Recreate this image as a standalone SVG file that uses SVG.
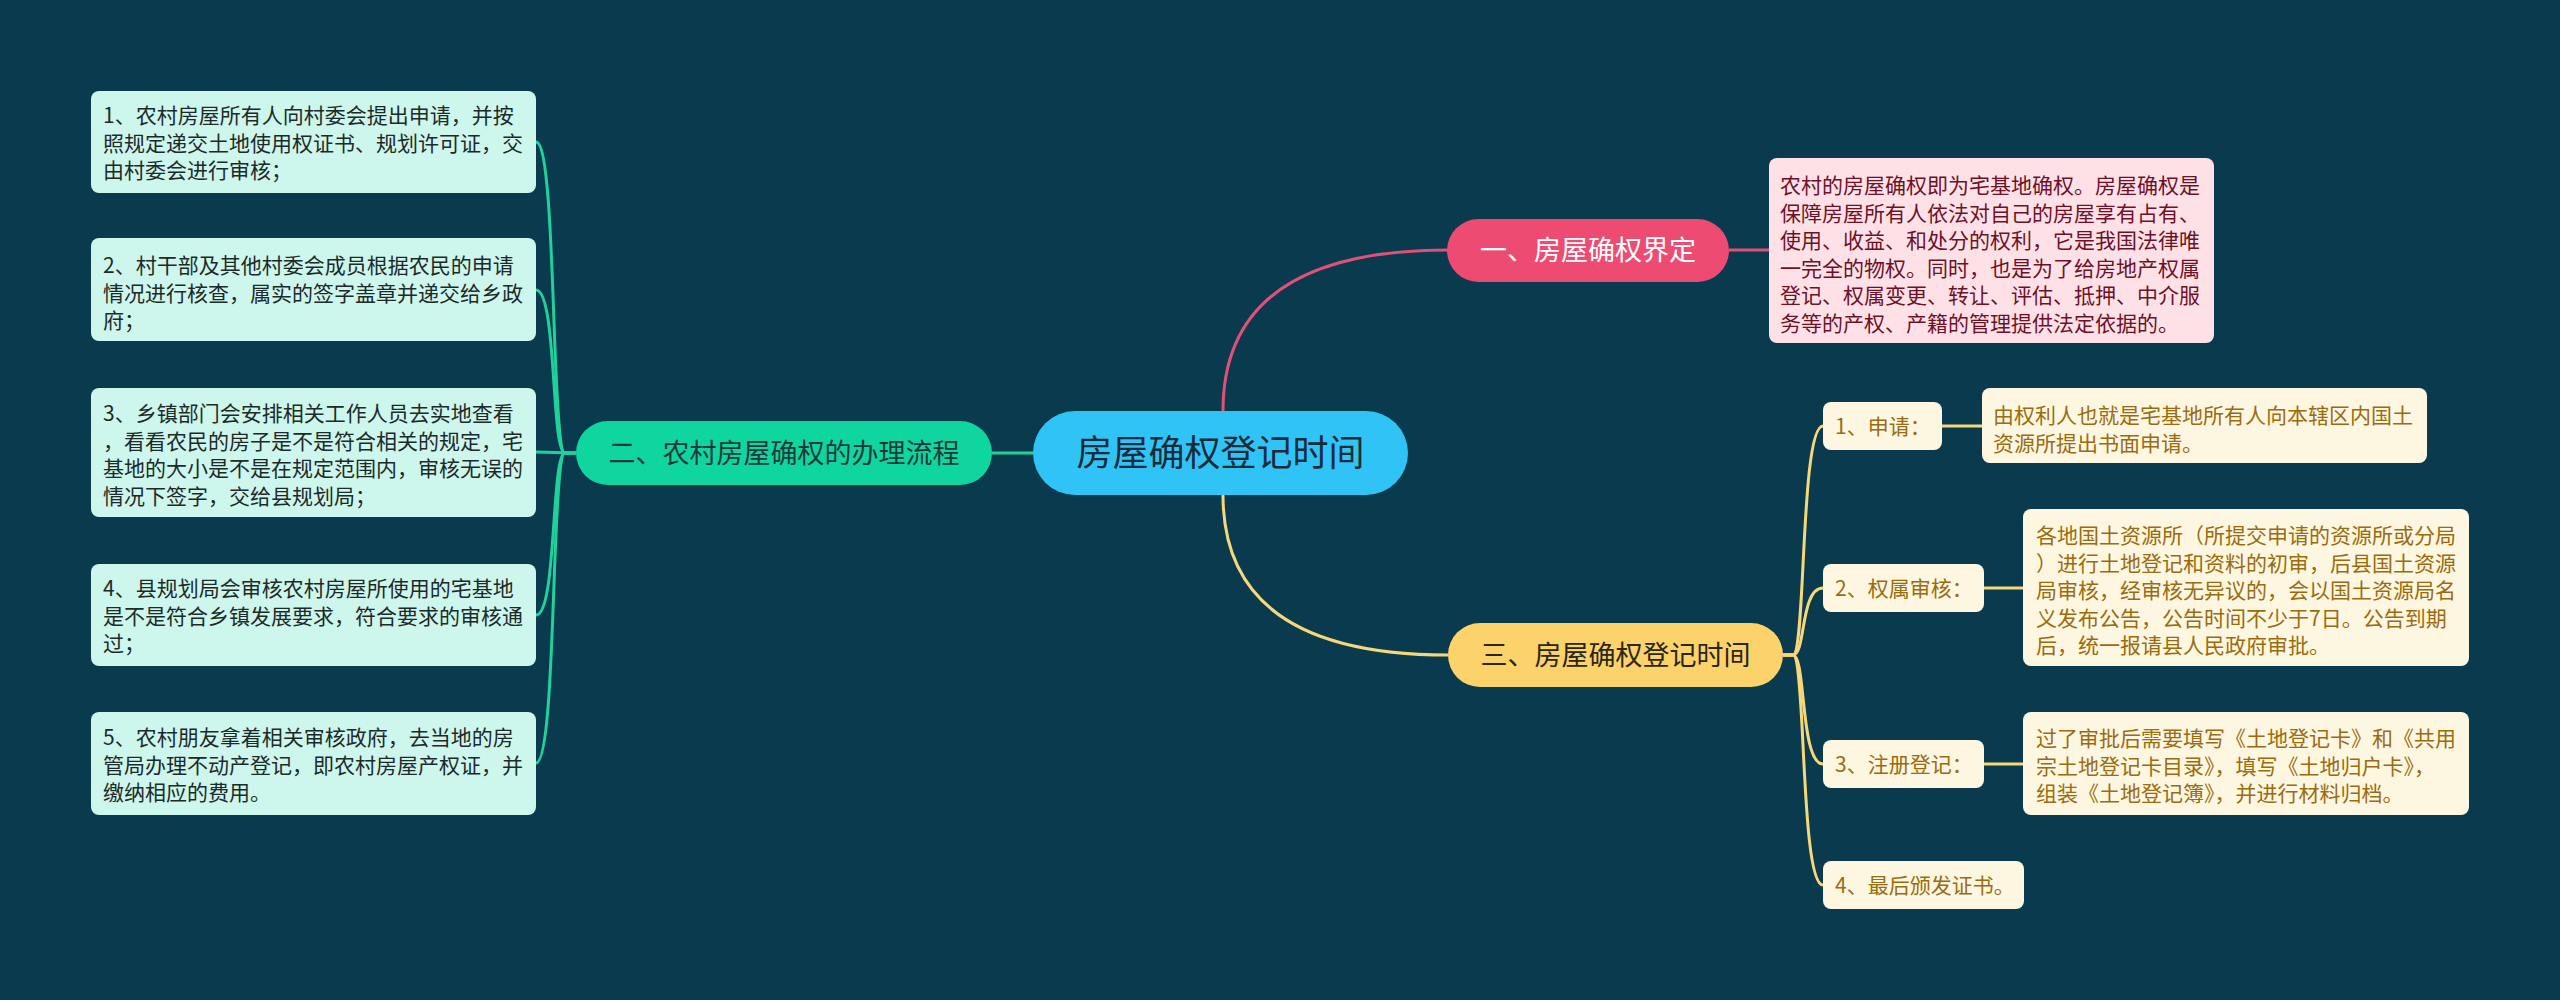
<svg xmlns="http://www.w3.org/2000/svg" width="2560" height="1000" viewBox="0 0 2560 1000">
<style>
text{font-family:"Noto Sans CJK SC","Noto Sans",sans-serif;}
.leaf{fill:#cdf6ec;}
.leaft{font-size:21px;fill:#1d2a2a;}
.pinkbox{fill:#fde1e7;}
.pinkt{font-size:21px;fill:#6e1127;}
.ybox{fill:#fdf6e0;}
.yt{font-size:21px;fill:#9a6c0e;}
.bt{font-size:27px;text-anchor:middle;}
.cg{stroke:#1fd29b;stroke-width:3;fill:none;}
.cp{stroke:#e2507a;stroke-width:3;fill:none;}
.cy{stroke:#f6d77a;stroke-width:3;fill:none;}
</style>
<rect width="2560" height="1000" fill="#0a3a4d"/>
<g id="connectors">
<path class="cg" d="M1033 453 L992 453"/>
<path class="cp" d="M1223 411 Q1223 250 1448 250"/>
<path class="cy" d="M1223 495 Q1223 655 1448 655"/>
<path class="cp" d="M1729 250 L1769 250"/>
<path class="cg" d="M576 453 L565 453 C551 453 557 142 536 142"/>
<path class="cg" d="M576 453 L565 453 C551 453 557 290 536 290"/>
<path class="cg" d="M576 453 L536 452"/>
<path class="cg" d="M576 453 L565 453 C551 453 557 615 536 615"/>
<path class="cg" d="M576 453 L565 453 C551 453 557 763 536 763"/>
<path class="cy" d="M1783 655 L1793 655 C1806 655 1800 426 1823 426"/>
<path class="cy" d="M1783 655 L1793 655 C1806 655 1800 588 1823 588"/>
<path class="cy" d="M1783 655 L1793 655 C1806 655 1800 764 1823 764"/>
<path class="cy" d="M1783 655 L1793 655 C1806 655 1800 885 1823 885"/>
<path class="cy" d="M1942 426 L1982 426" stroke-width="4"/>
<path class="cy" d="M1984 588 L2023 588" stroke-width="4"/>
<path class="cy" d="M1984 764 L2023 764" stroke-width="4"/>
</g>
<g id="root">
<rect x="1033" y="411" width="375" height="84" rx="42" fill="#2fc4f5"/>
<text x="1220.5" y="466" font-size="36" text-anchor="middle" fill="#1a2b3a">房屋确权登记时间</text>
</g>
<g id="branch1">
<rect x="1447" y="219" width="282" height="63" rx="31.5" fill="#ee4b72"/>
<text class="bt" x="1588" y="260" fill="#ffffff">一、房屋确权界定</text>
</g>
<g id="branch1-detail">
<rect class="pinkbox" x="1769" y="158" width="445" height="185" rx="8"/>
<text class="pinkt" x="1780" y="193">农村的房屋确权即为宅基地确权。房屋确权是</text>
<text class="pinkt" x="1780" y="220.5">保障房屋所有人依法对自己的房屋享有占有、</text>
<text class="pinkt" x="1780" y="248">使用、收益、和处分的权利，它是我国法律唯</text>
<text class="pinkt" x="1780" y="275.5">一完全的物权。同时，也是为了给房地产权属</text>
<text class="pinkt" x="1780" y="303">登记、权属变更、转让、评估、抵押、中介服</text>
<text class="pinkt" x="1780" y="330.5">务等的产权、产籍的管理提供法定依据的。</text>
</g>
<g id="branch2">
<rect x="576" y="421" width="416" height="64" rx="32" fill="#0fd59e"/>
<text class="bt" x="784" y="463" fill="#1c3a3c">二、农村房屋确权的办理流程</text>
</g>
<g id="step1">
<rect class="leaf" x="91" y="91" width="445" height="102" rx="8"/>
<text class="leaft" x="103" y="123">1、农村房屋所有人向村委会提出申请，并按</text>
<text class="leaft" x="103" y="150.5">照规定递交土地使用权证书、规划许可证，交</text>
<text class="leaft" x="103" y="178">由村委会进行审核；</text>
</g>
<g id="step2">
<rect class="leaf" x="91" y="238" width="445" height="103" rx="8"/>
<text class="leaft" x="103" y="273">2、村干部及其他村委会成员根据农民的申请</text>
<text class="leaft" x="103" y="300.5">情况进行核查，属实的签字盖章并递交给乡政</text>
<text class="leaft" x="103" y="328">府；</text>
</g>
<g id="step3">
<rect class="leaf" x="91" y="388" width="445" height="129" rx="8"/>
<text class="leaft" x="103" y="421">3、乡镇部门会安排相关工作人员去实地查看</text>
<text class="leaft" x="103" y="448.5">，看看农民的房子是不是符合相关的规定，宅</text>
<text class="leaft" x="103" y="476">基地的大小是不是在规定范围内，审核无误的</text>
<text class="leaft" x="103" y="503.5">情况下签字，交给县规划局；</text>
</g>
<g id="step4">
<rect class="leaf" x="91" y="564" width="445" height="102" rx="8"/>
<text class="leaft" x="103" y="596">4、县规划局会审核农村房屋所使用的宅基地</text>
<text class="leaft" x="103" y="623.5">是不是符合乡镇发展要求，符合要求的审核通</text>
<text class="leaft" x="103" y="651">过；</text>
</g>
<g id="step5">
<rect class="leaf" x="91" y="712" width="445" height="103" rx="8"/>
<text class="leaft" x="103" y="745">5、农村朋友拿着相关审核政府，去当地的房</text>
<text class="leaft" x="103" y="772.5">管局办理不动产登记，即农村房屋产权证，并</text>
<text class="leaft" x="103" y="800">缴纳相应的费用。</text>
</g>
<g id="branch3">
<rect x="1448" y="623" width="335" height="64" rx="32" fill="#fcd26b"/>
<text class="bt" x="1615.5" y="665" fill="#2a2618">三、房屋确权登记时间</text>
</g>
<g id="sub1">
<rect class="ybox" x="1823" y="402" width="119" height="48" rx="8"/>
<text class="yt" x="1835" y="434">1、申请：</text>
</g>
<g id="sub1-detail">
<rect class="ybox" x="1982" y="388" width="445" height="75" rx="8"/>
<text class="yt" x="1993" y="423">由权利人也就是宅基地所有人向本辖区内国土</text>
<text class="yt" x="1993" y="450.5">资源所提出书面申请。</text>
</g>
<g id="sub2">
<rect class="ybox" x="1823" y="564" width="161" height="48" rx="8"/>
<text class="yt" x="1835" y="596">2、权属审核：</text>
</g>
<g id="sub2-detail">
<rect class="ybox" x="2023" y="509" width="446" height="157" rx="8"/>
<text class="yt" x="2036" y="543">各地国土资源所（所提交申请的资源所或分局</text>
<text class="yt" x="2036" y="570.5">）进行土地登记和资料的初审，后县国土资源</text>
<text class="yt" x="2036" y="598">局审核，经审核无异议的，会以国土资源局名</text>
<text class="yt" x="2036" y="625.5">义发布公告，公告时间不少于7日。公告到期</text>
<text class="yt" x="2036" y="653">后，统一报请县人民政府审批。</text>
</g>
<g id="sub3">
<rect class="ybox" x="1823" y="740" width="161" height="48" rx="8"/>
<text class="yt" x="1835" y="772">3、注册登记：</text>
</g>
<g id="sub3-detail">
<rect class="ybox" x="2023" y="712" width="446" height="103" rx="8"/>
<text class="yt" x="2036" y="746">过了审批后需要填写《土地登记卡》和《共用</text>
<text class="yt" x="2036" y="773.5">宗土地登记卡目录》，填写《土地归户卡》，</text>
<text class="yt" x="2036" y="801">组装《土地登记簿》，并进行材料归档。</text>
</g>
<g id="sub4">
<rect class="ybox" x="1823" y="861" width="201" height="48" rx="8"/>
<text class="yt" x="1835" y="893">4、最后颁发证书。</text>
</g>
</svg>
